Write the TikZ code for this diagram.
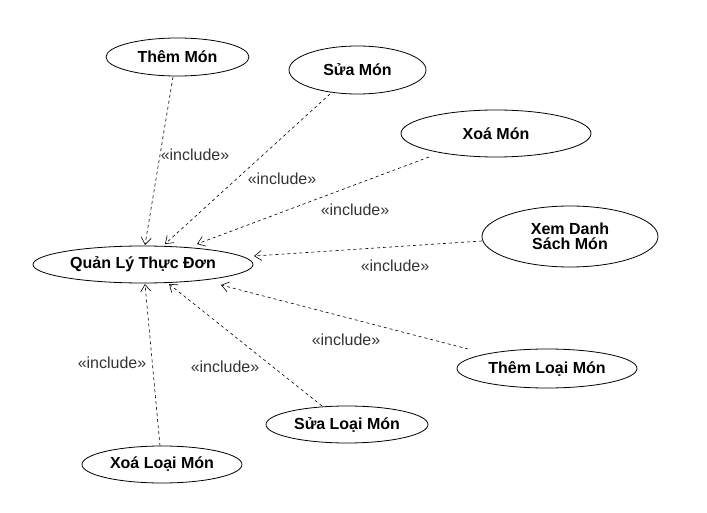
\documentclass[tikz,border=0pt]{standalone}
\usepackage{fontspec}
\setmainfont{Liberation Sans}
\usetikzlibrary{shapes.geometric,arrows.meta}
\begin{document}
\begin{tikzpicture}[x=1pt,y=-1pt,
  uc/.style={draw, ellipse, line width=0.8pt, inner sep=0pt, font=\fontsize{16}{15}\selectfont\bfseries, align=center},
  inc/.style={draw, line width=0.6pt, dash pattern=on 3pt off 3pt, -{Straight Barb[length=7pt,width=10pt]}},
  lbl/.style={font=\fontsize{16}{18}\selectfont, text=black!80, inner sep=0pt}]
\useasboundingbox (0,0) rectangle (707,513);
\node[uc, minimum width=143, minimum height=38] (them) at (177.5,57) {Thêm Món};
\node[uc, minimum width=137, minimum height=48] (sua) at (357.5,70) {Sửa Món};
\node[uc, minimum width=190, minimum height=47] (xoa) at (496,133.5) {Xoá Món};
\node[uc, minimum width=176, minimum height=61] (xem) at (570,236.5) {Xem Danh\\Sách Món};
\node[uc, minimum width=220, minimum height=37] (ql) at (143,264.5) {Quản Lý Thực Đơn};
\node[uc, minimum width=180, minimum height=39] (themloai) at (547,368.5) {Thêm Loại Món};
\node[uc, minimum width=162, minimum height=37] (sualoai) at (347,424.5) {Sửa Loại Món};
\node[uc, minimum width=160, minimum height=37] (xoaloai) at (162,464.5) {Xoá Loại Món};

\coordinate (e1) at (145,245);
\coordinate (e2) at (165,244);
\coordinate (e3) at (197,244);
\coordinate (e4) at (254,256);
\coordinate (e5) at (221,285);
\coordinate (e6) at (169,284);
\coordinate (e7) at (145,284);
\coordinate (s1) at (173,77);
\coordinate (s2) at (330,94);
\coordinate (s3) at (429,157);
\coordinate (s4) at (482,241);
\coordinate (s5) at (468,349);
\coordinate (s6) at (322,406);
\coordinate (s7) at (160,446);

\draw[inc] (s1) -- (e1);
\draw[inc] (s2) -- (e2);
\draw[inc] (s3) -- (e3);
\draw[inc] (s4) -- (e4);
\draw[inc] (s5) -- (e5);
\draw[inc] (s6) -- (e6);
\draw[inc] (s7) -- (e7);

\node[lbl] (l1) at (195,155) {«include»};
\node[lbl] (l2) at (282,179) {«include»};
\node[lbl] (l3) at (355,210) {«include»};
\node[lbl] (l4) at (395,266) {«include»};
\node[lbl] (l5) at (346,340) {«include»};
\node[lbl] (l6) at (225,367) {«include»};
\node[lbl] (l7) at (112,363) {«include»};
\end{tikzpicture}
\end{document}
